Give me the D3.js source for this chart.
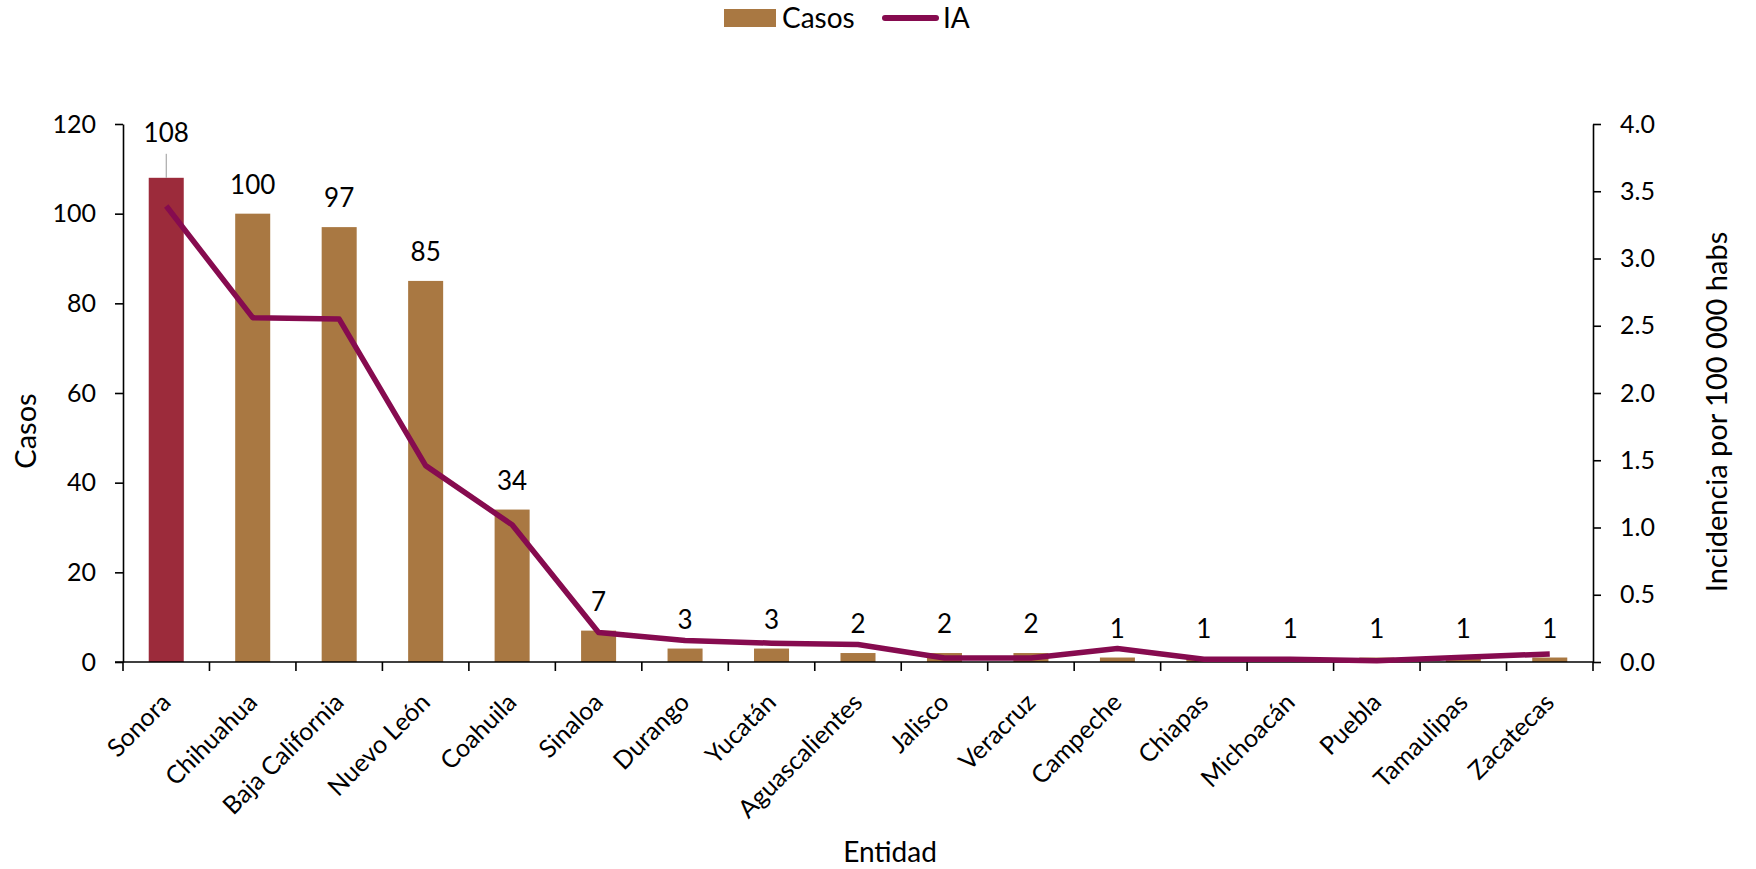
<!DOCTYPE html>
<html>
<head>
<meta charset="utf-8">
<script src="https://cdn.jsdelivr.net/npm/d3@7"></script>
<style>
  body { margin: 0; background: #fff; }
  text { font-family: Lato, "Open Sans", sans-serif; fill: #000; }
</style>
</head>
<body>
<svg id="chart" width="1756" height="869"></svg>
<script>
// data
var entidades = ["Sonora", "Chihuahua", "Baja California", "Nuevo León", "Coahuila", "Sinaloa",
    "Durango", "Yucatán", "Aguascalientes", "Jalisco", "Veracruz", "Campeche", "Chiapas",
    "Michoacán", "Puebla", "Tamaulipas", "Zacatecas"];
var casos = [108, 100, 97, 85, 34, 7, 3, 3, 2, 2, 2, 1, 1, 1, 1, 1, 1];
var incidencia = [3.39, 2.56, 2.55, 1.46, 1.02, 0.22, 0.16, 0.14, 0.13, 0.03, 0.03, 0.10,
    0.02, 0.02, 0.01, 0.035, 0.06];
var casosTicks = [0, 20, 40, 60, 80, 100, 120];
var iaTicks = [0, 0.5, 1, 1.5, 2, 2.5, 3, 3.5, 4];

var BAR_COLOR = "#A97842";
var HIGHLIGHT_COLOR = "#9C2B3B";
var LINE_COLOR = "#860B4F";

var margin = {left: 123, right: 1756 - 1593, top: 124, bottom: 869 - 662};
var svg = d3.select("#chart");
var width = 1756 - margin.left - margin.right;
var height = 869 - margin.top - margin.bottom;

var g = svg.append("g").attr("transform", "translate(" + margin.left + "," + margin.top + ")");

var x = d3.scaleBand().domain(entidades).range([0, width]).paddingInner(0.595).paddingOuter(0.2975);
var y = d3.scaleLinear().domain([0, 120]).range([height, 0]);
var y2 = d3.scaleLinear().domain([0, 4]).range([height, 0]);

// bars
g.selectAll(".bar")
    .data(casos)
    .enter().append("rect")
    .attr("class", "bar")
    .attr("x", function (d, i) { return x(entidades[i]); })
    .attr("y", function (d) { return y(d); })
    .attr("width", x.bandwidth())
    .attr("height", function (d) { return height - y(d); })
    .attr("fill", function (d, i) { return i === 0 ? HIGHLIGHT_COLOR : BAR_COLOR; });

// axes
function styleAxis(sel) {
    sel.select(".domain").attr("stroke", "#000").attr("stroke-width", 1.6);
    sel.selectAll(".tick line").attr("stroke", "#000").attr("stroke-width", 1.6);
    sel.selectAll(".tick text").style("font-size", "25px").attr("fill", "#000");
}

var yAxis = g.append("g")
    .call(d3.axisLeft(y).tickValues(casosTicks).tickSize(8).tickPadding(19).tickSizeOuter(0));
styleAxis(yAxis);

var y2Axis = g.append("g")
    .attr("transform", "translate(" + width + ",0)")
    .call(d3.axisRight(y2).tickValues(iaTicks).tickSize(8).tickPadding(19).tickSizeOuter(0)
        .tickFormat(d3.format(".1f")));
styleAxis(y2Axis);

// x axis: ticks at category boundaries
var step = x.step();
var xAxis = g.append("g").attr("transform", "translate(0," + height + ")");
xAxis.append("line")
    .attr("x1", -8).attr("x2", width)
    .attr("stroke", "#000").attr("stroke-width", 1.6);
xAxis.selectAll(".xtick")
    .data(d3.range(entidades.length + 1))
    .enter().append("line")
    .attr("x1", function (i) { return i * step; })
    .attr("x2", function (i) { return i * step; })
    .attr("y1", 0).attr("y2", 9)
    .attr("stroke", "#000").attr("stroke-width", 1.6);
xAxis.selectAll(".xlabel")
    .data(entidades)
    .enter().append("text")
    .attr("text-anchor", "end")
    .attr("transform", function (d) {
        return "translate(" + (x(d) + x.bandwidth() / 2 + 6) + ",42) rotate(-45)";
    })
    .style("font-size", "25px")
    .text(function (d) { return d; });

// IA line
var line = d3.line()
    .x(function (d, i) { return x(entidades[i]) + x.bandwidth() / 2; })
    .y(function (d) { return y2(d); });

g.append("path")
    .datum(incidencia)
    .attr("fill", "none")
    .attr("stroke", LINE_COLOR)
    .attr("stroke-width", 5.5)
    .attr("stroke-linejoin", "round")
    .attr("d", line);

// data labels (Sonora's label is lifted with a leader line)
g.selectAll(".label")
    .data(casos)
    .enter().append("text")
    .attr("text-anchor", "middle")
    .attr("x", function (d, i) { return x(entidades[i]) + x.bandwidth() / 2; })
    .attr("y", function (d, i) { return i === 0 ? y(d) - 36 : y(d) - 20; })
    .style("font-size", "26px")
    .text(function (d) { return d; });

g.append("line")
    .attr("x1", x(entidades[0]) + x.bandwidth() / 2)
    .attr("x2", x(entidades[0]) + x.bandwidth() / 2)
    .attr("y1", y(casos[0]) - 24)
    .attr("y2", y(casos[0]))
    .attr("stroke", "#999").attr("stroke-width", 1);

// axis titles
svg.append("text")
    .attr("text-anchor", "middle")
    .attr("transform", "translate(36,431) rotate(-90)")
    .style("font-size", "29px")
    .text("Casos");

svg.append("text")
    .attr("text-anchor", "middle")
    .attr("transform", "translate(1727,412) rotate(-90)")
    .style("font-size", "29px")
    .text("Incidencia por 100 000 habs");

svg.append("text")
    .attr("text-anchor", "middle")
    .attr("x", 890).attr("y", 862)
    .style("font-size", "28px")
    .text("Entidad");

// legend
var legend = svg.append("g");
legend.append("rect")
    .attr("x", 724).attr("y", 9).attr("width", 52).attr("height", 18)
    .attr("fill", BAR_COLOR);
legend.append("text")
    .attr("x", 782).attr("y", 28)
    .style("font-size", "28px")
    .text("Casos");
legend.append("line")
    .attr("x1", 885).attr("x2", 936).attr("y1", 18).attr("y2", 18)
    .attr("stroke", LINE_COLOR).attr("stroke-width", 6).attr("stroke-linecap", "round");
legend.append("text")
    .attr("x", 943).attr("y", 28)
    .style("font-size", "28px")
    .text("IA");
</script>
</body>
</html>
